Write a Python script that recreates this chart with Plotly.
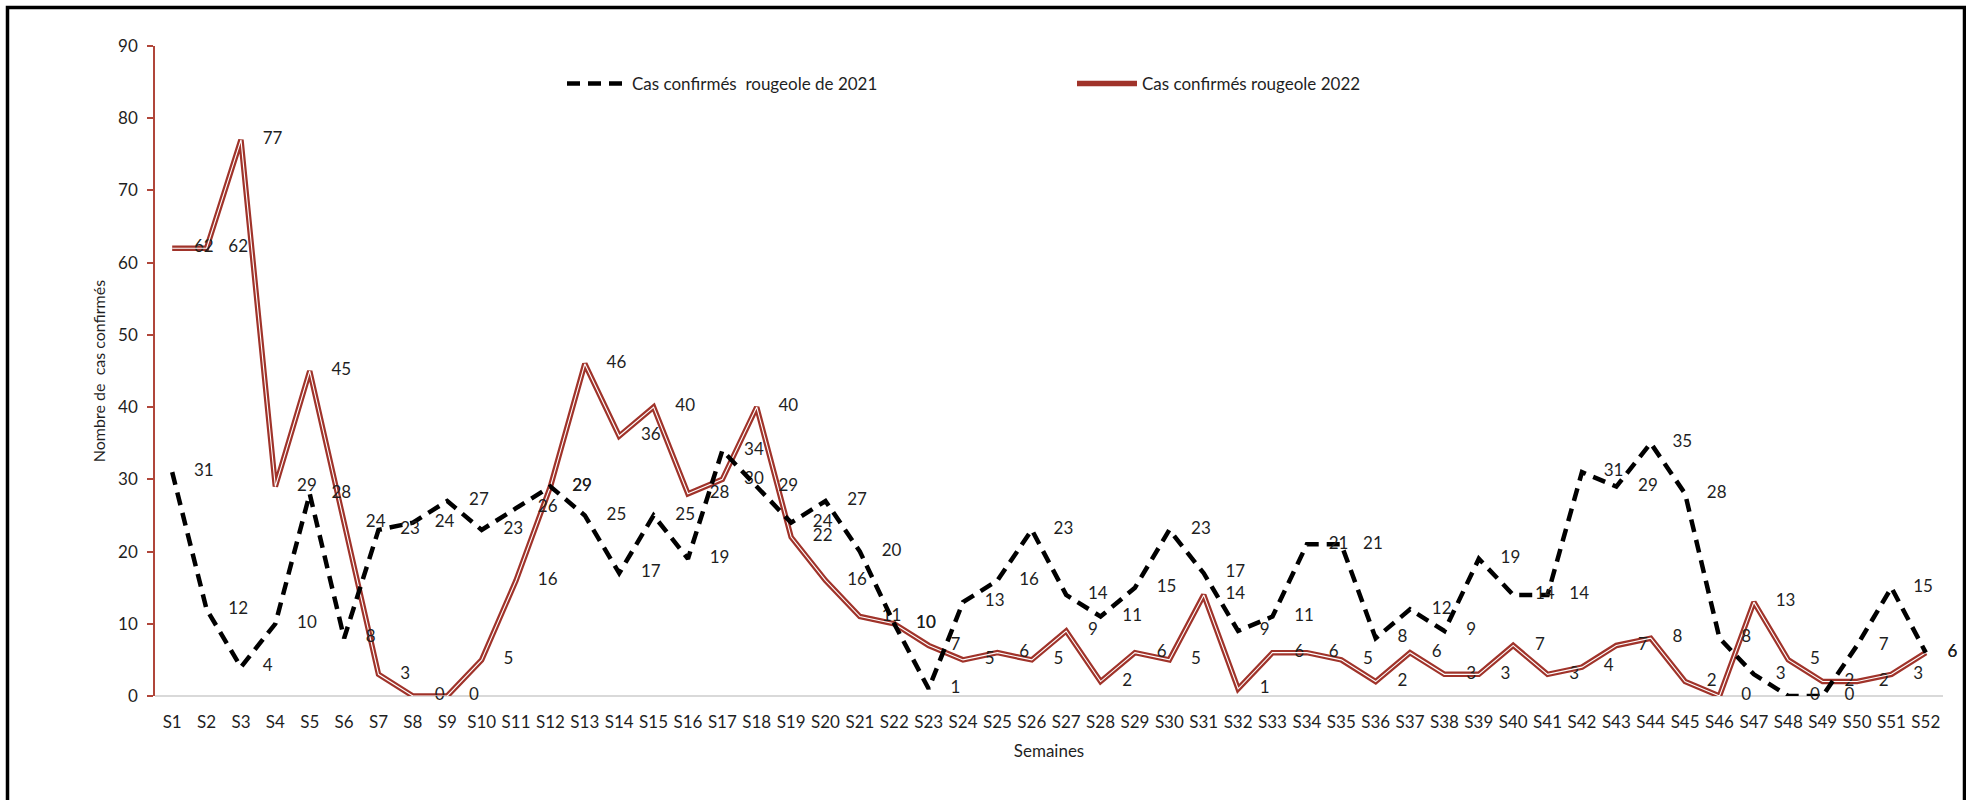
import plotly.graph_objects as go

semaines = [f"S{i}" for i in range(1, 53)]

cas_2021 = [31, 12, 4, 10, 28, 8, 23, 24, 27, 23, 26, 29, 25, 17, 25, 19, 34, 29, 24, 27,
            20, 10, 1, 13, 16, 23, 14, 11, 15, 23, 17, 9, 11, 21, 21, 8, 12, 9, 19, 14,
            14, 31, 29, 35, 28, 8, 3, 0, 0, 7, 15, 6]

cas_2022 = [62, 62, 77, 29, 45, 24, 3, 0, 0, 5, 16, 29, 46, 36, 40, 28, 30, 40, 22, 16,
            11, 10, 7, 5, 6, 5, 9, 2, 6, 5, 14, 1, 6, 6, 5, 2, 6, 3, 3, 7,
            3, 4, 7, 8, 2, 0, 13, 5, 2, 2, 3, 6]

y_ticks = [0, 10, 20, 30, 40, 50, 60, 70, 80, 90]

W, H = 1966, 800
ML, MR, MT, MB = 155, 23, 46, 104

FONT = "Lato, Carlito, Calibri, sans-serif"
RED = "#A0332A"
AXRED = "#B0463A"
TXT = "#1f1f1f"
PAD = "\u00a0" * 5

fig = go.Figure()

fig.add_trace(go.Scatter(
    x=semaines, y=cas_2022, name="Cas confirmés rougeole 2022",
    mode="lines+text", line=dict(color=RED, width=5.5),
    text=[PAD + str(v) for v in cas_2022], textposition="middle right",
    textfont=dict(family=FONT, size=17, color=TXT),
    cliponaxis=False, legendrank=2,
))
fig.add_trace(go.Scatter(
    x=semaines, y=cas_2022, mode="lines", showlegend=False, hoverinfo="skip",
    line=dict(color="white", width=1.1),
))
fig.add_trace(go.Scatter(
    x=semaines, y=cas_2021, name="Cas confirmés  rougeole de 2021",
    mode="lines+text", line=dict(color="black", width=4.5, dash="13px,8px"),
    text=[PAD + str(v) for v in cas_2021], textposition="middle right",
    textfont=dict(family=FONT, size=17, color=TXT),
    cliponaxis=False, legendrank=1,
))

pw = W - ML - MR
ph = H - MT - MB
fig.add_shape(type="rect", xref="paper", yref="paper",
              x0=(7.5 - ML) / pw, x1=(1964.5 - ML) / pw,
              y0=(H - MB - 815) / ph, y1=(H - MB - 7.5) / ph,
              line=dict(color="black", width=3.5), fillcolor="rgba(0,0,0,0)", layer="below")

fig.update_layout(
    width=W, height=H,
    margin=dict(l=ML, r=MR, t=MT, b=MB, autoexpand=False),
    paper_bgcolor="white", plot_bgcolor="white",
    font=dict(family=FONT, size=17, color=TXT),
    showlegend=True,
    legend=dict(orientation="h", x=(562 - ML) / pw, xanchor="left",
                y=(H - MB - 84) / ph, yanchor="middle",
                entrywidth=435, entrywidthmode="pixels", itemwidth=60,
                font=dict(family=FONT, size=17, color=TXT),
                bgcolor="rgba(0,0,0,0)", traceorder="normal"),
    xaxis=dict(
        type="category", showgrid=False, zeroline=False,
        showline=False, ticks="", ticklabelstandoff=14,
        tickfont=dict(family=FONT, size=17, color=TXT),
        title=dict(text="Semaines", font=dict(family=FONT, size=17, color=TXT), standoff=14),
        range=[-0.5, 51.5],
    ),
    yaxis=dict(
        range=[0, 90], tickvals=y_ticks, showgrid=False, zeroline=True,
        zerolinecolor="#D9D9D9", zerolinewidth=2,
        showline=True, linecolor=AXRED, linewidth=1.5,
        ticks="outside", ticklen=6, tickcolor=AXRED, tickwidth=1.5,
        ticklabelstandoff=6,
        tickfont=dict(family=FONT, size=17, color=TXT),
        title=dict(text="Nombre de  cas confirmés", font=dict(family=FONT, size=16, color=TXT), standoff=9),
    ),
)

fig.write_html("out.html", config={"displayModeBar": False},
               post_script="document.body.style.margin='0px';document.body.style.overflow='hidden';")
